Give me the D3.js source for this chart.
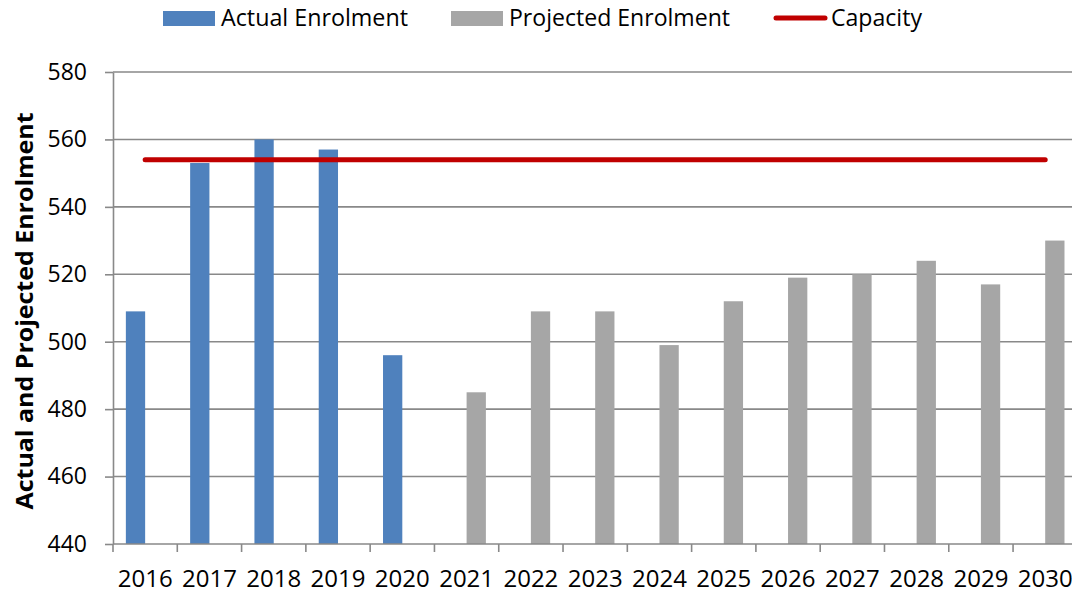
<!DOCTYPE html>
<html>
<head>
<meta charset="utf-8">
<script src="https://cdn.jsdelivr.net/npm/d3@7/dist/d3.min.js"></script>
<style>
  body { margin: 0; background: #fff; }
  svg { display: block; font-family: 'Open Sans', sans-serif; }
</style>
</head>
<body>
<div id="chart"></div>
<script>
// data
var years = ['2016', '2017', '2018', '2019', '2020', '2021', '2022', '2023',
             '2024', '2025', '2026', '2027', '2028', '2029', '2030'];
var actual = [509, 553, 560, 557, 496, null, null, null, null, null, null, null, null, null, null];
var projected = [null, null, null, null, null, 485, 509, 509, 499, 512, 519, 520, 524, 517, 530];
var capacity = [554, 554, 554, 554, 554, 554, 554, 554, 554, 554, 554, 554, 554, 554, 554];
var yTicks = [440, 460, 480, 500, 520, 540, 560, 580];

var colors = {
    actual: '#4F81BD',
    projected: '#A6A6A6',
    capacity: '#C00000',
    grid: '#898989'
};

const width = 1072;
const height = 592;
const plotLeft = 113;
const plotTop = 72;
const plotBottom = 544;
const step = 64.29;
const plotRight = plotLeft + step * years.length;

const svg = d3.select('#chart').append('svg')
    .attr('width', width)
    .attr('height', height);

const x = d3.scaleBand()
    .domain(years)
    .range([plotLeft, plotRight])
    .padding(0);

const y = d3.scaleLinear()
    .domain([440, 580])
    .range([plotBottom, plotTop]);

const barW = x.bandwidth() * 0.3;

// gridlines
svg.append('g')
    .selectAll('line')
    .data(yTicks.slice(1))
    .join('line')
    .attr('x1', plotLeft)
    .attr('x2', plotRight)
    .attr('y1', d => y(d))
    .attr('y2', d => y(d))
    .attr('stroke', colors.grid)
    .attr('stroke-width', 1.6);

// actual bars
svg.append('g')
    .selectAll('rect')
    .data(years.filter((d, i) => actual[i] != null))
    .join('rect')
    .attr('x', d => x(d) + x.bandwidth() / 2 - barW)
    .attr('y', d => y(actual[years.indexOf(d)]))
    .attr('width', barW)
    .attr('height', d => plotBottom - y(actual[years.indexOf(d)]))
    .attr('fill', colors.actual);

// projected bars
svg.append('g')
    .selectAll('rect')
    .data(years.filter((d, i) => projected[i] != null))
    .join('rect')
    .attr('x', d => x(d) + x.bandwidth() / 2)
    .attr('y', d => y(projected[years.indexOf(d)]))
    .attr('width', barW)
    .attr('height', d => plotBottom - y(projected[years.indexOf(d)]))
    .attr('fill', colors.projected);

// capacity line
const line = d3.line()
    .x((d, i) => x(years[i]) + x.bandwidth() / 2)
    .y(d => y(d));

svg.append('path')
    .datum(capacity)
    .attr('d', line)
    .attr('fill', 'none')
    .attr('stroke', colors.capacity)
    .attr('stroke-width', 5)
    .attr('stroke-linecap', 'round');

// y axis
const yAxis = svg.append('g')
    .attr('transform', 'translate(' + plotLeft + ',0)')
    .call(d3.axisLeft(y).tickValues(yTicks).tickSize(8).tickPadding(18).tickSizeOuter(0));
yAxis.select('.domain').attr('stroke', colors.grid).attr('stroke-width', 1.6);
yAxis.selectAll('.tick line').attr('stroke', colors.grid).attr('stroke-width', 1.6);
yAxis.selectAll('.tick text')
    .attr('fill', '#000')
    .style('font-size', '23px')
    .style('font-family', "'Open Sans', sans-serif");

// x axis
const xAxis = svg.append('g')
    .attr('transform', 'translate(0,' + plotBottom + ')')
    .call(d3.axisBottom(x).tickSize(0).tickPadding(26).tickSizeOuter(0));
xAxis.select('.domain').remove();
xAxis.selectAll('.tick text')
    .attr('fill', '#000')
    .style('font-size', '24px')
    .style('font-family', "'Open Sans', sans-serif");

svg.append('line')
    .attr('x1', plotLeft)
    .attr('x2', plotRight)
    .attr('y1', plotBottom)
    .attr('y2', plotBottom)
    .attr('stroke', colors.grid)
    .attr('stroke-width', 1.6);

svg.append('g')
    .selectAll('line')
    .data(years)
    .join('line')
    .attr('x1', d => x(d))
    .attr('x2', d => x(d))
    .attr('y1', plotBottom)
    .attr('y2', plotBottom + 8)
    .attr('stroke', colors.grid)
    .attr('stroke-width', 1.6);

// y axis title
svg.append('text')
    .attr('transform', 'translate(33,' + 311 + ') rotate(-90)')
    .attr('text-anchor', 'middle')
    .attr('font-size', 24)
    .attr('font-weight', 'bold')
    .attr('textLength', 397)
    .attr('lengthAdjust', 'spacingAndGlyphs')
    .text('Actual and Projected Enrolment');

// legend
var legendItems = [
    { name: 'Actual Enrolment', type: 'rect', color: colors.actual, x: 163, tx: 221, tw: 187 },
    { name: 'Projected Enrolment', type: 'rect', color: colors.projected, x: 451, tx: 509, tw: 221 },
    { name: 'Capacity', type: 'line', color: colors.capacity, x: 773, tx: 831, tw: 91 }
];

const legend = svg.append('g');
legendItems.forEach(function (item) {
    if (item.type === 'rect') {
        legend.append('rect')
            .attr('x', item.x)
            .attr('y', 11)
            .attr('width', 52)
            .attr('height', 15)
            .attr('fill', item.color);
    } else {
        legend.append('line')
            .attr('x1', item.x + 3)
            .attr('x2', item.x + 52)
            .attr('y1', 18)
            .attr('y2', 18)
            .attr('stroke', item.color)
            .attr('stroke-width', 5)
            .attr('stroke-linecap', 'round');
    }
    legend.append('text')
        .attr('x', item.tx)
        .attr('y', 26)
        .attr('font-size', 23)
        .attr('textLength', item.tw)
        .attr('lengthAdjust', 'spacingAndGlyphs')
        .text(item.name);
});
</script>
</body>
</html>
